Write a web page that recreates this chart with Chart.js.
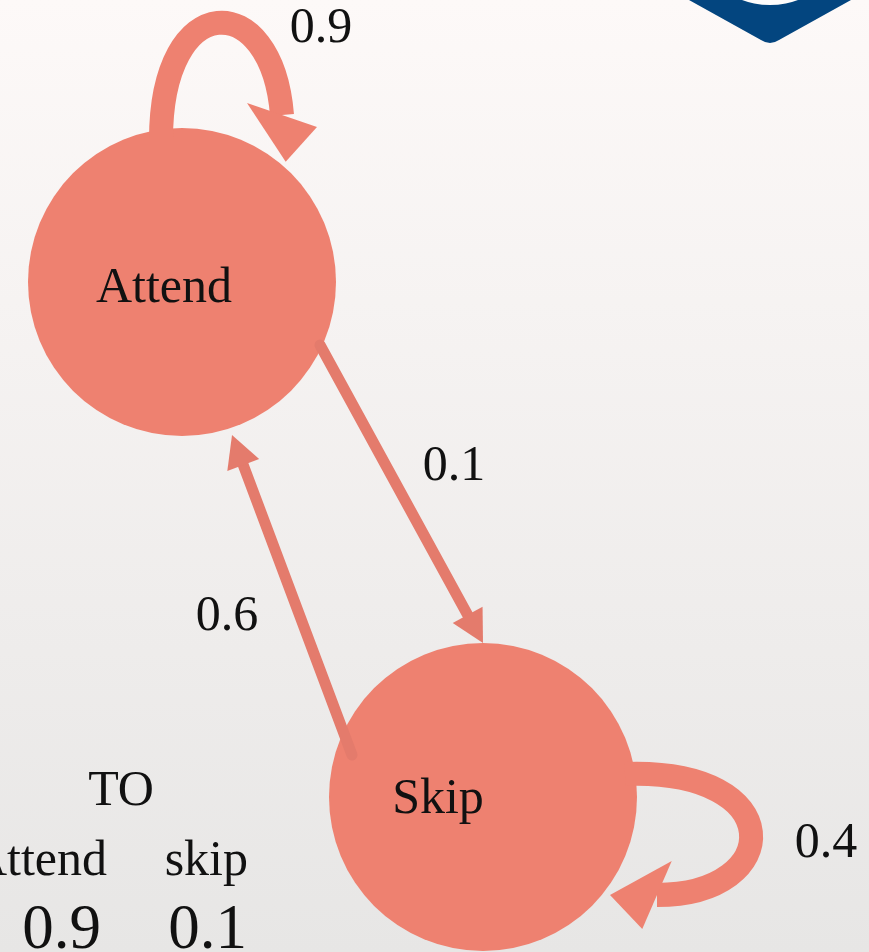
<!DOCTYPE html>
<html><head><meta charset="utf-8">
<script src="https://cdn.jsdelivr.net/npm/chart.js@4"></script>
<style>html,body{margin:0;padding:0;overflow:hidden;background:#f3f0ef}canvas{display:block}</style>
</head><body>
<div style="width:869px;height:952px"><canvas id="c" width="869" height="952"></canvas></div>
<script>
// ---- data ----
const states = ['Attend', 'Skip'];
const transitionFrom = ['Attend', 'Attend', 'Skip', 'Skip'];
const transitionTo = ['Attend', 'Skip', 'Attend', 'Skip'];
const transitionProb = [0.9, 0.1, 0.6, 0.4];
const tableTitle = 'TO';
const tableColumns = ['Attend', 'skip'];
const tableValues = [0.9, 0.1];

// ---- layout (diagram units on a 869 x 952 plane) ----
const nodeLayout = {
  Attend: { x: 182, y: 282, r: 154, lx: 164, ly: 302 },
  Skip:   { x: 483, y: 797, r: 154, lx: 438, ly: 813 }
};
const edgeLayout = [
  { type: 'loop', p: [[161, 140], [161, -12], [272, -12], [282, 115]], label: [321, 42] },
  { type: 'line', from: [320, 345], tip: [483, 643], label: [454, 480] },
  { type: 'line', from: [352, 755], tip: [232, 435], label: [227, 630] },
  { type: 'loop', p: [[625, 774], [790, 768], [785, 895], [657, 895]], label: [826, 857] }
];
const tableLayout = { title: [121, 805], colRight: [107, 248], headY: 875, valRight: [101, 247], valY: 948 };

const NODE_COLOR = '#ee8170';
const LOOP_COLOR = '#ee8170';
const LINE_COLOR = '#e47b6c';
const FONT = '"Liberation Serif", "DejaVu Serif", serif';

function head(ctx, bx, by, ang, len, hw, skew) {
  const tx = bx + len * Math.cos(ang), ty = by + len * Math.sin(ang);
  const b = ang + Math.PI / 2 + skew;
  ctx.beginPath();
  ctx.moveTo(tx, ty);
  ctx.lineTo(bx + hw * Math.cos(b), by + hw * Math.sin(b));
  ctx.lineTo(bx - hw * Math.cos(b), by - hw * Math.sin(b));
  ctx.closePath();
  ctx.fill();
}

const diagramPlugin = {
  id: 'diagram',
  beforeDraw(chart) {
    const ctx = chart.ctx, W = chart.width, H = chart.height;
    const g = ctx.createLinearGradient(0, 0, 0, H);
    g.addColorStop(0, '#fdf9f8');
    g.addColorStop(1, '#e7e6e5');
    ctx.save();
    ctx.fillStyle = g;
    ctx.fillRect(0, 0, W, H);
    // logo fragment (top right)
    ctx.fillStyle = '#03457f';
    ctx.beginPath();
    ctx.moveTo(689, 0);
    ctx.lineTo(761, 40);
    ctx.quadraticCurveTo(770, 46, 779, 40);
    ctx.lineTo(851, 0);
    ctx.closePath();
    ctx.fill();
    ctx.fillStyle = '#fefcfc';
    ctx.beginPath();
    ctx.arc(770, -76, 81, 0, Math.PI * 2);
    ctx.fill();
    ctx.restore();
  },
  afterDatasetsDraw(chart) {
    const ctx = chart.ctx;
    const sx = chart.scales.x, sy = chart.scales.y;
    const X = v => sx.getPixelForValue(v), Y = v => sy.getPixelForValue(v);
    ctx.save();
    edgeLayout.forEach((e, i) => {
      if (e.type === 'loop') {
        const p = e.p.map(q => [X(q[0]), Y(q[1])]);
        ctx.strokeStyle = LOOP_COLOR;
        ctx.fillStyle = LOOP_COLOR;
        ctx.lineWidth = 24;
        ctx.lineCap = 'butt';
        ctx.beginPath();
        ctx.moveTo(p[0][0], p[0][1]);
        ctx.bezierCurveTo(p[1][0], p[1][1], p[2][0], p[2][1], p[3][0], p[3][1]);
        ctx.stroke();
        const ang = Math.atan2(p[3][1] - p[2][1], p[3][0] - p[2][0]);
        head(ctx, p[3][0], p[3][1], ang, 47, 37, 0.41);
      } else {
        const fx = X(e.from[0]), fy = Y(e.from[1]), tx = X(e.tip[0]), ty = Y(e.tip[1]);
        const ang = Math.atan2(ty - fy, tx - fx);
        const len = 32;
        const bx = tx - len * Math.cos(ang), by = ty - len * Math.sin(ang);
        ctx.strokeStyle = LINE_COLOR;
        ctx.fillStyle = LINE_COLOR;
        ctx.lineWidth = 11;
        ctx.lineCap = 'round';
        ctx.beginPath();
        ctx.moveTo(fx, fy);
        ctx.lineTo(bx + 2 * Math.cos(ang), by + 2 * Math.sin(ang));
        ctx.stroke();
        head(ctx, bx, by, ang, len, 17, 0);
      }
      // probability label
      ctx.fillStyle = '#111';
      ctx.font = '50px ' + FONT;
      ctx.textAlign = 'center';
      ctx.textBaseline = 'alphabetic';
      ctx.fillText(String(transitionProb[i]), X(e.label[0]), Y(e.label[1]));
    });
    // node labels
    ctx.fillStyle = '#111';
    ctx.font = '50px ' + FONT;
    ctx.textAlign = 'center';
    states.forEach(s => {
      const n = nodeLayout[s];
      ctx.fillText(s, X(n.lx), Y(n.ly));
    });
    // transition table
    ctx.fillText(tableTitle, X(tableLayout.title[0]), Y(tableLayout.title[1]));
    ctx.textAlign = 'right';
    tableColumns.forEach((c, i) => ctx.fillText(c, X(tableLayout.colRight[i]), Y(tableLayout.headY)));
    ctx.font = '63px ' + FONT;
    tableValues.forEach((v, i) => ctx.fillText(String(v), X(tableLayout.valRight[i]), Y(tableLayout.valY)));
    ctx.restore();
  }
};

new Chart(document.getElementById('c'), {
  type: 'bubble',
  data: {
    datasets: [{
      label: 'states',
      data: states.map(s => ({ x: nodeLayout[s].x, y: nodeLayout[s].y, r: nodeLayout[s].r })),
      backgroundColor: NODE_COLOR,
      borderWidth: 0,
      hoverRadius: 0,
      clip: false
    }]
  },
  options: {
    responsive: false,
    animation: false,
    events: [],
    layout: { padding: 0, autoPadding: false },
    scales: {
      x: { type: 'linear', min: 0, max: 869, display: false },
      y: { type: 'linear', min: 0, max: 952, reverse: true, display: false }
    },
    plugins: { legend: { display: false }, tooltip: { enabled: false } }
  },
  plugins: [diagramPlugin]
});
</script>
</body></html>
